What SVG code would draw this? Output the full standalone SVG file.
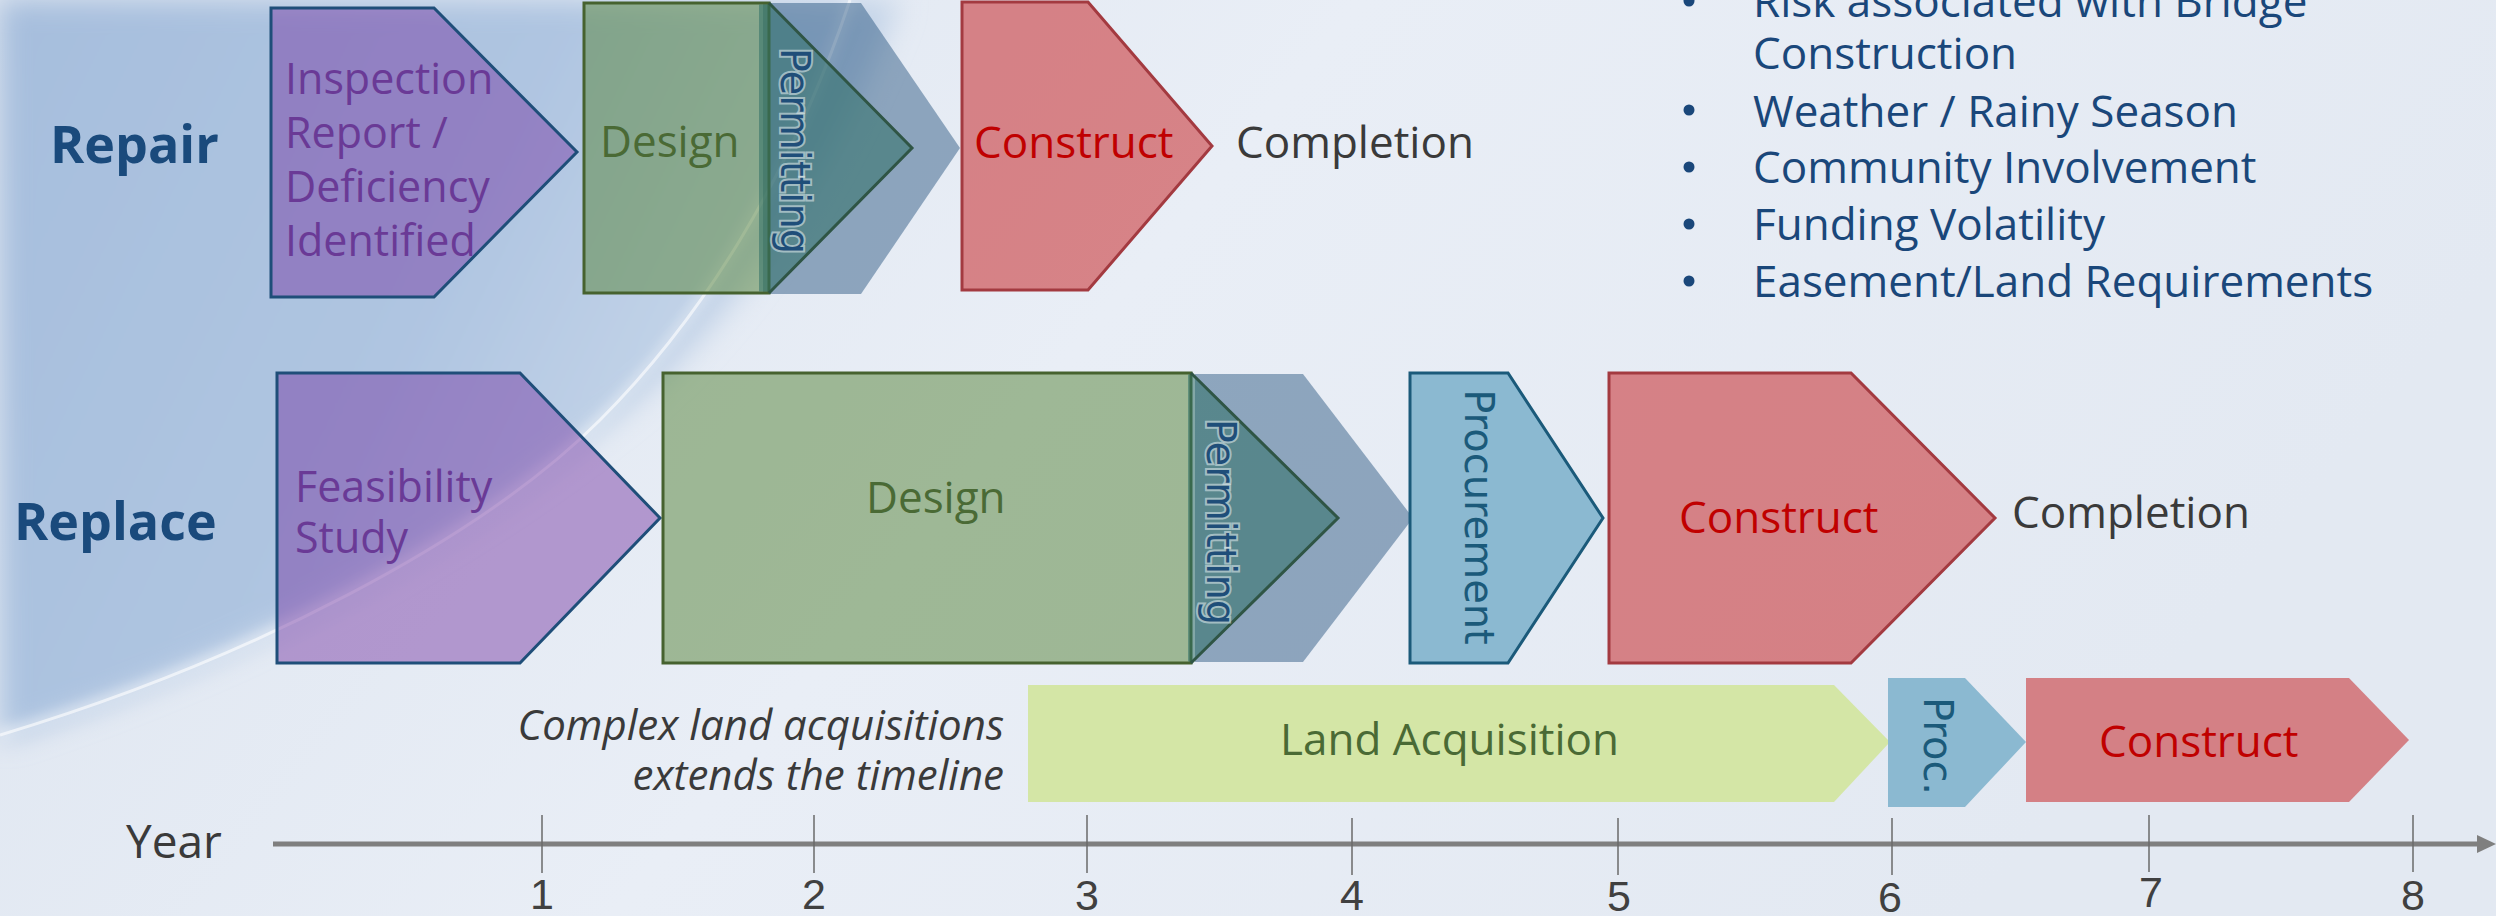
<svg xmlns="http://www.w3.org/2000/svg" width="2496" height="916" viewBox="0 0 2496 916">
<defs>
<linearGradient id="bgBase" x1="0" y1="0" x2="1" y2="0.3">
<stop offset="0" stop-color="#dce4ef"/><stop offset="0.5" stop-color="#e9eef6"/><stop offset="1" stop-color="#e3e9f2"/>
</linearGradient>
<linearGradient id="bgBlue" x1="0" y1="0" x2="1" y2="0.4">
<stop offset="0" stop-color="#a6bedd"/><stop offset="0.55" stop-color="#afc5e1"/><stop offset="1" stop-color="#cfdcec"/>
</linearGradient>
<filter id="soft" x="-0.1" y="-0.1" width="1.2" height="1.2"><feGaussianBlur stdDeviation="14"/></filter>
<filter id="glow" x="-0.5" y="-0.5" width="2" height="2"><feGaussianBlur stdDeviation="5"/></filter>
<style>
.lbl{font-family:"Open Sans","Liberation Sans",sans-serif;font-size:44px}
.small{font-size:43px}
.note{font-size:42px;font-style:italic;text-anchor:end}
.year{font-size:46px}
.row{font-family:"Open Sans","Liberation Sans",sans-serif;font-size:52px;font-weight:700;fill:#1a4a7c}
.vert{font-family:"DejaVu Sans","Verdana",sans-serif;font-size:40px;text-anchor:middle}
.purple{fill:#7030a0;fill-opacity:.45;stroke:#1f4e79;stroke-width:3}
.green{fill:#548235;fill-opacity:.5;stroke:#46622f;stroke-width:3}
.red{fill:#c00000;fill-opacity:.45;stroke:#a33a40;stroke-width:3}
.chev{fill:#1f4e79;fill-opacity:.45}
.permit{fill:#2f6f66;fill-opacity:.55}
.proc{fill:#8bb9d1;stroke:#1b5a7a;stroke-width:3}
.ptxt{fill:#6a3a96}
.gtxt{fill:#4a6a35}
.rtxt{fill:#c00000}
.dtxt{fill:#3a3a3a}
.btxt{fill:#1a477a}
.tick{stroke:#6a6a6a;stroke-width:1.5}
.num{font-family:"Liberation Sans","Arial",sans-serif;font-size:43px;fill:#404040;text-anchor:middle}
</style>
</defs>

<g id="background">
<rect width="2496" height="916" fill="url(#bgBase)"/>
<path d="M0,0 H900 C 840,160 740,330 600,430 C 460,540 250,660 0,740 Z" fill="url(#bgBlue)" filter="url(#soft)"/>
<path d="M0,735 C 250,660 480,540 600,420 C 700,320 790,180 850,0" fill="none" stroke="#ffffff" stroke-width="14" stroke-opacity="0.25" filter="url(#glow)"/>
<path d="M0,735 C 250,660 480,540 600,420 C 700,320 790,180 850,0" fill="none" stroke="#ffffff" stroke-width="3" stroke-opacity="0.6"/>
</g>

<text class="row" x="50" y="163">Repair</text>
<text class="row" x="14" y="540">Replace</text>

<g id="repair-inspection">
<path class="purple" d="M271,8 H434 L577,152 L434,297 H271 Z"/>
<text class="lbl small ptxt" x="285" y="94">Inspection</text>
<text class="lbl small ptxt" x="285" y="148">Report /</text>
<text class="lbl small ptxt" x="285" y="202">Deficiency</text>
<text class="lbl small ptxt" x="285" y="256">Identified</text>
</g>

<g id="repair-permitting-lag">
<path class="chev" d="M763,3 H861 L960,148 L861,294 H763 Z"/>
</g>

<g id="repair-design">
<rect class="green" x="584" y="3" width="185" height="290"/>
<text class="lbl gtxt" x="600" y="157">Design</text>
</g>

<g id="repair-permitting">
<path class="permit" d="M759,4.5 H769 L911,148 L769,291.5 H759 Z"/>
<path d="M769,3 L912,148 L769,293" fill="none" stroke="#2f5545" stroke-width="3"/>
<text class="vert" transform="translate(781,151) rotate(90)" fill="#1f4e79" stroke="#e6eef2" stroke-width="4" stroke-opacity="0.55" paint-order="stroke">Permitting</text>
</g>

<g id="repair-construct">
<path class="red" d="M962,2 H1088 L1212,146 L1088,290 H962 Z"/>
<text class="lbl rtxt" x="974" y="158">Construct</text>
</g>
<text id="repair-completion" class="lbl dtxt" x="1236" y="158">Completion</text>

<g id="risks">
<circle cx="1689" cy="1" r="5.5" fill="#1a477a"/>
<text class="lbl btxt" x="1753" y="17">Risk associated with Bridge</text>
<text class="lbl btxt" x="1753" y="69">Construction</text>
<circle cx="1689" cy="110" r="5.5" fill="#1a477a"/>
<text class="lbl btxt" x="1753" y="127">Weather / Rainy Season</text>
<circle cx="1689" cy="167" r="5.5" fill="#1a477a"/>
<text class="lbl btxt" x="1753" y="183">Community Involvement</text>
<circle cx="1689" cy="224" r="5.5" fill="#1a477a"/>
<text class="lbl btxt" x="1753" y="240">Funding Volatility</text>
<circle cx="1689" cy="281" r="5.5" fill="#1a477a"/>
<text class="lbl btxt" x="1753" y="297">Easement/Land Requirements</text>
</g>

<g id="replace-feasibility">
<path class="purple" d="M277,373 H520 L660,518 L520,663 H277 Z"/>
<text class="lbl small ptxt" x="295" y="502">Feasibility</text>
<text class="lbl small ptxt" x="295" y="553">Study</text>
</g>

<g id="replace-permitting-lag">
<path class="chev" d="M1195,374 H1303 L1413,518 L1303,662 H1195 Z"/>
</g>

<g id="replace-design">
<rect class="green" x="663" y="373" width="528" height="290"/>
<text class="lbl gtxt" x="866" y="513">Design</text>
</g>

<g id="replace-permitting">
<path class="permit" d="M1188,374.5 H1191 L1337,518 L1191,661.5 H1188 Z"/>
<path d="M1191,373 L1338,518 L1191,663" fill="none" stroke="#2f5545" stroke-width="3"/>
<text class="vert" transform="translate(1207,522) rotate(90)" fill="#1f4e79" stroke="#e6eef2" stroke-width="4" stroke-opacity="0.55" paint-order="stroke">Permitting</text>
</g>

<g id="replace-procurement">
<path class="proc" d="M1410,373 H1508 L1603,518 L1508,663 H1410 Z"/>
<text class="vert" transform="translate(1465,517) rotate(90)" fill="#1b5a7a">Procurement</text>
</g>

<g id="replace-construct">
<path class="red" d="M1609,373 H1851 L1995,518 L1851,663 H1609 Z"/>
<text class="lbl rtxt" x="1679" y="533">Construct</text>
</g>
<text id="replace-completion" class="lbl dtxt" x="2012" y="528">Completion</text>

<g id="note">
<text class="lbl note dtxt" x="1004" y="740">Complex land acquisitions</text>
<text class="lbl note dtxt" x="1004" y="790">extends the timeline</text>
</g>

<g id="land-acquisition">
<path d="M1028,685 H1834 L1890,742 L1834,802 H1028 Z" fill="#d4e6a6"/>
<text class="lbl gtxt" x="1280" y="755">Land Acquisition</text>
</g>

<g id="proc-short">
<path d="M1888,678 H1965 L2026,742 L1965,807 H1888 Z" fill="#8bb9d1"/>
<text class="vert" transform="translate(1924,746) rotate(90)" fill="#1b5a7a">Proc.</text>
</g>

<g id="construct-late">
<path d="M2026,678 H2349 L2409,740 L2349,802 H2026 Z" fill="#c00000" fill-opacity="0.45"/>
<text class="lbl rtxt" x="2099" y="757">Construct</text>
</g>

<g id="axis">
<text class="lbl year dtxt" x="126" y="858">Year</text>
<line x1="273" y1="844" x2="2482" y2="844" stroke="#7f7f7f" stroke-width="5"/>
<path d="M2496,844 L2477,835 L2477,853 Z" fill="#7f7f7f"/>
<line class="tick" x1="542" y1="815" x2="542" y2="873"/>
<line class="tick" x1="814" y1="815" x2="814" y2="873"/>
<line class="tick" x1="1087" y1="815" x2="1087" y2="873"/>
<line class="tick" x1="1352" y1="818" x2="1352" y2="875"/>
<line class="tick" x1="1618" y1="818" x2="1618" y2="875"/>
<line class="tick" x1="1892" y1="818" x2="1892" y2="875"/>
<line class="tick" x1="2149" y1="815" x2="2149" y2="872"/>
<line class="tick" x1="2413" y1="815" x2="2413" y2="872"/>
<text class="num" x="542" y="909">1</text>
<text class="num" x="814" y="909">2</text>
<text class="num" x="1087" y="910">3</text>
<text class="num" x="1352" y="910">4</text>
<text class="num" x="1619" y="911">5</text>
<text class="num" x="1890" y="912">6</text>
<text class="num" x="2151" y="907">7</text>
<text class="num" x="2413" y="910">8</text>
</g>
</svg>
